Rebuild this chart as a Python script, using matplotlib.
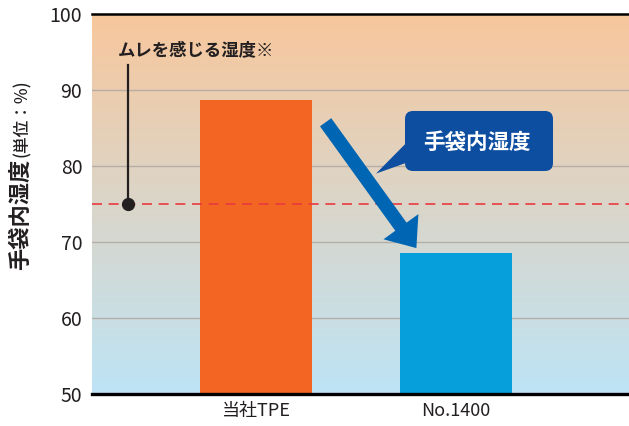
import numpy as np
import matplotlib
matplotlib.use('Agg')
import matplotlib.pyplot as plt
from matplotlib.patches import FancyArrowPatch, FancyBboxPatch, Polygon

plt.rcParams['font.family'] = ['Noto Sans CJK JP', 'DejaVu Sans']

#--------------------------------------------------- data
categories = ['当社TPE', 'No.1400']
humidity   = [88.7, 68.6]
bar_colors = ['#f26522', '#069fdb']
threshold  = 75
y_ticks    = [50, 60, 70, 80, 90, 100]

#--------------------------------------------------- figure / axes
W, H = 629, 426
fig = plt.figure(figsize=(W/100, H/100), dpi=100)
ax = fig.add_axes([92/W, 32/H, 537/W, 380/H])
ax.set_xlim(-0.82, 1.865)
ax.set_ylim(50, 100)

# background gradient (peach -> light blue)
top = np.array([248, 199, 156]) / 255.
bot = np.array([189, 228, 246]) / 255.
t = np.linspace(0, 1, 256)[:, None]
grad = (top[None, :] * (1 - t) + bot[None, :] * t)[:, None, :]
ax.imshow(grad, extent=[-0.82, 1.865, 50, 100], aspect='auto', zorder=0, origin='upper')

for yv in y_ticks[1:-1]:
  ax.axhline(yv, color='#b5aea6', lw=1.0, zorder=1)

x = np.arange(len(categories))
ax.bar(x, humidity, width=0.56, color=bar_colors, zorder=3, bottom=0)
ax.set_ylim(50, 100)

ax.axhline(threshold, color='#e83a3f', lw=1.2, ls=(0, (6, 4)), zorder=4)

# threshold marker + label
ax.plot([-0.64, -0.64], [threshold, 93.3], color='#231f20', lw=1.6, zorder=5)
ax.plot([-0.64], [threshold], 'o', color='#231f20', markersize=8.5, zorder=6)
ax.text(-0.69, 94.1, 'ムレを感じる湿度※', fontsize=12.5, fontweight='bold',
        color='#231f20', ha='left', va='bottom', zorder=6)

# big arrow
arr = FancyArrowPatch((0.34, 86.05), (0.81, 68.9),
                      arrowstyle='simple,head_length=19,head_width=31,tail_width=10',
                      mutation_scale=1, color='#0066b3', lw=0, zorder=7)
ax.add_patch(arr)

# callout box
asp = (1/7.6) / (1/200.)
box = FancyBboxPatch((0.745, 79.34), 0.74, 7.9,
                     boxstyle='round,pad=0,rounding_size=0.04', mutation_aspect=asp,
                     fc='#0d4ea0', ec='none', zorder=8)
ax.add_patch(box)
tail = Polygon([(0.75, 83.0), (0.60, 79.0), (0.76, 80.5)], closed=True,
               fc='#0d4ea0', ec='none', zorder=8)
ax.add_patch(tail)
ax.text(1.105, 83.1, '手袋内湿度', fontsize=15.5, fontweight='bold', color='white',
        ha='center', va='center', zorder=9)

#--------------------------------------------------- axes styling
ax.set_xticks(x)
ax.set_xticklabels(categories, fontsize=13, color='#231f20')
ax.set_yticks(y_ticks)
ax.set_yticklabels([str(v) for v in y_ticks], fontsize=14, color='#231f20')
ax.tick_params(axis='both', length=0)
ax.tick_params(axis='y', pad=7)
ax.tick_params(axis='x', pad=6)

for s in ['left', 'right']:
  ax.spines[s].set_visible(False)
ax.spines['top'].set_linewidth(1.8)
ax.spines['top'].set_zorder(10)
ax.spines['bottom'].set_linewidth(2.4)
ax.spines['bottom'].set_zorder(10)

# y label: bold part + small unit part
fig.text(20/W, 1 - 270/H, '手袋内湿度', rotation=90, fontsize=16, fontweight='bold',
         color='#231f20', ha='center', va='bottom')
fig.text(22/W, 1 - 157/H, '(単位：%)', rotation=90, fontsize=12, fontweight='medium',
         color='#231f20', ha='center', va='bottom')

fig.savefig('out.png', dpi=100)
